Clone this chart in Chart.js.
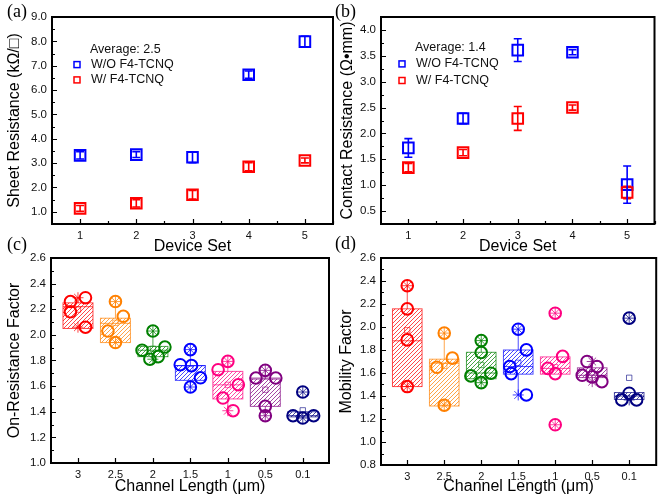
<!DOCTYPE html>
<html>
<head>
<meta charset="utf-8">
<script src="https://cdn.jsdelivr.net/npm/chart.js@4.4.1/dist/chart.umd.min.js"></script>
<style>
  html, body { margin: 0; padding: 0; width: 659px; height: 502px; overflow: hidden; background: #fff; }
  canvas { position: absolute; left: 0; top: 0; }
</style>
</head>
<body>
<canvas id="chart-a" width="664" height="502"></canvas>
<canvas id="chart-b" width="664" height="502"></canvas>
<canvas id="chart-c" width="664" height="502"></canvas>
<canvas id="chart-d" width="664" height="502"></canvas>
<script>
// ---- data ----
const deviceSets = [1, 2, 3, 4, 5];
const seriesLabels = ["W/O F4-TCNQ", "W/ F4-TCNQ"];

const sheetTicks = [1, 2, 3, 4, 5, 6, 7, 8, 9];
const sheetAverage = "Average: 2.5";
const sheetWithout = [3.32, 3.35, 3.24, 6.63, 7.99];
const sheetWithoutErr = [0.15, 0.12, 0.22, 0.15, 0.22];
const sheetWith = [1.14, 1.35, 1.70, 2.85, 3.11];
const sheetWithErr = [0.12, 0.15, 0.18, 0.17, 0.10];

const contactTicks = [0.5, 1.0, 1.5, 2.0, 2.5, 3.0, 3.5, 4.0];
const contactAverage = "Average: 1.4";
const contactWithout = [1.72, 2.29, 3.61, 3.57, 1.01];
const contactWithoutErr = [0.18, 0.10, 0.22, 0.05, 0.36];
const contactWith = [1.34, 1.63, 2.29, 2.50, 0.86];
const contactWithErr = [0.08, 0.06, 0.23, 0.05, 0.12];

const channelLengths = ["3", "2.5", "2", "1.5", "1", "0.5", "0.1"];
const groupColors = ["#ff0000", "#ff8000", "#008000", "#0000ff", "#ff0080", "#800080", "#000080"];

const onResTicks = [1.0, 1.2, 1.4, 1.6, 1.8, 2.0, 2.2, 2.4, 2.6];
const onResPoints = [
    [2.26, 2.29, 2.18, 2.06],
    [2.26, 2.145, 2.03, 1.94],
    [2.03, 1.88, 1.905, 1.81, 1.83],
    [1.885, 1.767, 1.76, 1.665, 1.593],
    [1.793, 1.728, 1.611, 1.507, 1.408],
    [1.723, 1.663, 1.663, 1.442, 1.369],
    [1.554, 1.369, 1.369, 1.351]
];
const onResOffsets = [
    [-0.2, 0.2, -0.2, 0.2],
    [0, 0.21, -0.2, 0],
    [0, -0.29, 0.32, -0.08, 0.14],
    [0, -0.27, 0.03, 0.27, 0],
    [0, -0.26, 0.28, -0.13, 0.14],
    [0, -0.25, 0.28, 0, 0],
    [0, -0.26, 0.29, 0]
];
const onResBoxLow = [2.05, 1.94, 1.83, 1.645, 1.50, 1.442, 1.36];
const onResBoxHigh = [2.25, 2.13, 1.91, 1.76, 1.715, 1.655, 1.40];
const onResMedian = [2.22, 2.09, 1.88, 1.76, 1.61, 1.663, 1.37];

const mobilityTicks = [0.8, 1.0, 1.2, 1.4, 1.6, 1.8, 2.0, 2.2, 2.4, 2.6];
const mobilityPoints = [
    [2.359, 2.158, 1.888, 1.482],
    [1.947, 1.729, 1.65, 1.32],
    [1.882, 1.778, 1.575, 1.598, 1.516],
    [1.981, 1.801, 1.656, 1.595, 1.409],
    [2.12, 1.745, 1.64, 1.595, 1.15],
    [1.70, 1.656, 1.58, 1.566, 1.525],
    [2.077, 1.366, 1.424, 1.366]
];
const mobilityOffsets = [
    [0, 0, 0, 0],
    [0, 0.22, -0.2, 0],
    [0, 0, -0.28, 0.26, 0],
    [0, 0.22, -0.23, -0.19, 0.22],
    [0, 0.2, -0.2, 0, 0],
    [-0.14, 0.13, -0.27, 0, 0.26],
    [0, -0.2, 0, 0.2]
];
const mobilityBoxLow = [1.482, 1.313, 1.55, 1.59, 1.59, 1.56, 1.37];
const mobilityBoxHigh = [2.158, 1.72, 1.78, 1.80, 1.74, 1.645, 1.43];
const mobilityMedian = [1.88, 1.685, 1.60, 1.656, 1.64, 1.58, 1.40];

// ---- shared setup ----
Chart.defaults.font.family = "'Liberation Sans', Arial, sans-serif";
Chart.defaults.color = "#111";
Chart.defaults.animation = false;

function withAlpha(hex, a) {
    const n = parseInt(hex.slice(1), 16);
    return `rgba(${n >> 16}, ${(n >> 8) & 255}, ${n & 255}, ${a})`;
}

function hatchPattern(ctx, color) {
    const tile = document.createElement("canvas");
    tile.width = tile.height = 4;
    const g = tile.getContext("2d");
    g.strokeStyle = withAlpha(color, 0.8);
    g.lineWidth = 0.9;
    g.beginPath();
    g.moveTo(0, 4); g.lineTo(4, 0);
    g.moveTo(-1, 1); g.lineTo(1, -1);
    g.moveTo(3, 5); g.lineTo(5, 3);
    g.stroke();
    return ctx.createPattern(tile, "repeat");
}

function yAxis(min, max, ticks, title, width, titlePad, fmt) {
    return {
        type: "linear", min, max,
        afterBuildTicks: s => { s.ticks = ticks.map(v => ({ value: v })); },
        afterFit: s => { s.width = width; },
        grid: { display: false, drawTicks: false },
        border: { display: false },
        ticks: { padding: 5, font: { size: 11.5 }, color: "#111", callback: v => fmt(v) },
        title: { display: true, text: title, color: "#000", font: { size: 16 }, padding: { top: titlePad, bottom: 0 } }
    };
}

function xAxis(min, max, ticks, labelOf, title, titlePad) {
    return {
        type: "linear", min, max,
        afterBuildTicks: s => { s.ticks = ticks.map(v => ({ value: v })); },
        afterFit: s => { s.height = 35; },
        grid: { display: false, drawTicks: false },
        border: { display: false },
        ticks: { padding: 5, font: { size: 11 }, color: "#111", callback: v => labelOf(v) },
        title: { display: true, text: title, color: "#000", font: { size: 16 }, padding: { top: 0, bottom: titlePad } }
    };
}

// frame, inward ticks and panel letter
const framePlugin = {
    id: "frame",
    afterDraw(chart, args, opts) {
        const { ctx, chartArea: a, scales: { x, y } } = chart;
        ctx.save();
        ctx.strokeStyle = "#000";
        ctx.lineWidth = 2;
        ctx.strokeRect(a.left, a.top, a.right - a.left, a.bottom - a.top);
        ctx.lineWidth = 1.2;
        ctx.beginPath();
        const yStep = y.ticks[1].value - y.ticks[0].value;
        for (let v = y.ticks[0].value - yStep; v <= y.max + 1e-9; v += yStep / 2) {
            if (v <= y.min + 1e-9) continue;
            const py = Math.round(y.getPixelForValue(v)) + 0.5;
            const major = Math.abs((v - y.ticks[0].value) / yStep - Math.round((v - y.ticks[0].value) / yStep)) < 1e-6;
            ctx.moveTo(a.left, py); ctx.lineTo(a.left + (major ? 5 : 3), py);
        }
        const xStep = x.ticks[1].value - x.ticks[0].value;
        const xSub = opts.xMinor ? xStep / 2 : xStep;
        for (let v = x.ticks[0].value - xStep; v <= x.max + 1e-9; v += xSub) {
            if (v <= x.min + 1e-9) continue;
            const px = Math.round(x.getPixelForValue(v)) + 0.5;
            const major = Math.abs((v - x.ticks[0].value) / xStep - Math.round((v - x.ticks[0].value) / xStep)) < 1e-6;
            ctx.moveTo(px, a.bottom); ctx.lineTo(px, a.bottom - (major ? 5 : 3));
        }
        ctx.stroke();
        ctx.fillStyle = "#000";
        ctx.font = "18px 'Liberation Serif', 'Times New Roman', serif";
        ctx.textBaseline = "middle";
        ctx.fillText(opts.letter, opts.letterX, opts.letterY);
        ctx.restore();
    }
};

// error bars and the in-plot legend for panels (a) and (b)
const errorPlugin = {
    id: "errorBars",
    afterDatasetsDraw(chart) {
        const { ctx, scales: { y } } = chart;
        chart.data.datasets.forEach((ds, i) => {
            const meta = chart.getDatasetMeta(i);
            ctx.save();
            ctx.strokeStyle = ds.borderColor;
            ctx.lineWidth = 1.6;
            ctx.beginPath();
            meta.data.forEach((pt, k) => {
                const v = ds.data[k].y;
                const top = y.getPixelForValue(v + ds.errors[k]);
                const bot = y.getPixelForValue(v - ds.errors[k]);
                ctx.moveTo(pt.x, top); ctx.lineTo(pt.x, bot);
                ctx.moveTo(pt.x - 4, top); ctx.lineTo(pt.x + 4, top);
                ctx.moveTo(pt.x - 4, bot); ctx.lineTo(pt.x + 4, bot);
            });
            ctx.stroke();
            ctx.restore();
        });
    }
};

const notePlugin = {
    id: "note",
    afterDraw(chart, args, opts) {
        const { ctx } = chart;
        ctx.save();
        ctx.font = "12.5px 'Liberation Sans', Arial, sans-serif";
        ctx.textBaseline = "middle";
        ctx.fillStyle = "#111";
        ctx.fillText(opts.average, opts.x + 13, opts.y);
        opts.items.forEach((item, i) => {
            const cy = opts.y + opts.gap * (i + 1);
            ctx.strokeStyle = item.color;
            ctx.lineWidth = 1.5;
            ctx.strokeRect(opts.x - 3, cy - 3, 6, 6);
            ctx.fillText(item.label, opts.x + 14, cy);
        });
        ctx.restore();
    }
};

// hatched boxes, whiskers and median lines for panels (c) and (d)
const boxPlugin = {
    id: "boxPlot",
    beforeDatasetsDraw(chart, args, opts) {
        const { ctx, scales: { x, y } } = chart;
        opts.points.forEach((pts, i) => {
            const color = groupColors[i];
            const lo = opts.low[i], hi = opts.high[i];
            const iqr = hi - lo;
            const inside = pts.filter(v => v >= lo - 1.5 * iqr && v <= hi + 1.5 * iqr);
            const wHi = Math.max(hi, ...inside), wLo = Math.min(lo, ...inside);
            const l = x.getPixelForValue(i - 0.4), r = x.getPixelForValue(i + 0.4), c = x.getPixelForValue(i);
            const t = y.getPixelForValue(hi), b = y.getPixelForValue(lo);
            ctx.save();
            ctx.fillStyle = hatchPattern(ctx, color);
            ctx.fillRect(l, t, r - l, b - t);
            ctx.strokeStyle = withAlpha(color, 0.7);
            ctx.lineWidth = 1;
            ctx.strokeRect(l, t, r - l, b - t);
            ctx.beginPath();
            const m = y.getPixelForValue(opts.median[i]);
            ctx.moveTo(l, m); ctx.lineTo(r, m);
            ctx.moveTo(c, t); ctx.lineTo(c, y.getPixelForValue(wHi));
            ctx.moveTo(c, b); ctx.lineTo(c, y.getPixelForValue(wLo));
            ctx.stroke();
            ctx.restore();
        });
    }
};

function squareDataset(label, values, errors, color) {
    return {
        label,
        data: deviceSets.map((d, i) => ({ x: d, y: values[i] })),
        errors,
        pointStyle: "rect",
        pointRadius: 7.5,
        borderWidth: 2,
        borderColor: color,
        backgroundColor: "rgba(0,0,0,0)"
    };
}

function makeSetChart(id, padding, yCfg, withoutVals, withoutErr, withVals, withErr, frame, note) {
    return new Chart(document.getElementById(id), {
        type: "scatter",
        data: {
            datasets: [
                squareDataset(seriesLabels[1], withVals, withErr, "#ff0000"),
                squareDataset(seriesLabels[0], withoutVals, withoutErr, "#0000ff")
            ]
        },
        options: {
            responsive: false,
            devicePixelRatio: 1,
            layout: { padding },
            scales: {
                x: Object.assign(xAxis(0.5, 5.5, deviceSets, v => String(v), "Device Set", 0),
                    { afterFit: s => { s.height = 32; } }),
                y: yCfg
            },
            plugins: { legend: { display: false }, tooltip: { enabled: false }, frame, note }
        },
        plugins: [errorPlugin, framePlugin, notePlugin]
    });
}

function boxDatasets(points, offsets) {
    const sets = [];
    points.forEach((pts, i) => {
        const color = groupColors[i];
        sets.push({
            data: [{ x: i, y: pts.reduce((s, v) => s + v, 0) / pts.length }],
            pointStyle: "rect", pointRadius: 3.8, borderWidth: 1,
            borderColor: withAlpha(color, 0.6), backgroundColor: "rgba(0,0,0,0)"
        });
        sets.push({
            data: [{ x: i, y: Math.min(...pts) }, { x: i, y: Math.max(...pts) }],
            pointStyle: "star", pointRadius: 5.5, borderWidth: 1,
            borderColor: withAlpha(color, 0.75), backgroundColor: "rgba(0,0,0,0)"
        });
        sets.push({
            data: pts.map((v, k) => ({ x: i + offsets[i][k], y: v })),
            pointStyle: "circle", pointRadius: 5.8, borderWidth: 2,
            borderColor: color, backgroundColor: "rgba(0,0,0,0)"
        });
    });
    return sets;
}

function makeLengthChart(id, padding, yCfg, xMin, xMax, titlePad, points, offsets, low, high, median, frame) {
    return new Chart(document.getElementById(id), {
        type: "scatter",
        data: { datasets: boxDatasets(points, offsets) },
        options: {
            responsive: false,
            devicePixelRatio: 1,
            layout: { padding },
            scales: {
                x: xAxis(xMin, xMax, channelLengths.map((c, i) => i), v => channelLengths[v], "Channel Length (\u03bcm)", titlePad),
                y: yCfg
            },
            plugins: {
                legend: { display: false }, tooltip: { enabled: false }, frame,
                boxPlot: { points, low, high, median }
            }
        },
        plugins: [boxPlugin, framePlugin]
    });
}

const fmt1 = v => v.toFixed(1);

makeSetChart("chart-a", { left: 0, top: 17, right: 331, bottom: 246 },
    yAxis(0.5, 9.0, sheetTicks, "Sheet Resistance (k\u03a9/\u25a1)", 52, 5.4, fmt1),
    sheetWithout, sheetWithoutErr, sheetWith, sheetWithErr,
    { letter: "(a)", letterX: 7, letterY: 12, xMinor: true },
    { average: sheetAverage, x: 77, y: 49.3, gap: 15.3,
      items: [{ label: seriesLabels[0], color: "#0000ff" }, { label: seriesLabels[1], color: "#ff0000" }] });

makeSetChart("chart-b", { left: 333, top: 17, right: 3, bottom: 246 },
    yAxis(0.25, 4.25, contactTicks, "Contact Resistance (\u03a9\u2022mm)", 48, 4.9, fmt1),
    contactWithout, contactWithoutErr, contactWith, contactWithErr,
    { letter: "(b)", letterX: 335, letterY: 12, xMinor: true },
    { average: contactAverage, x: 402, y: 47.3, gap: 16.6,
      items: [{ label: seriesLabels[0], color: "#0000ff" }, { label: seriesLabels[1], color: "#ff0000" }] });

makeLengthChart("chart-c", { left: 0, top: 258, right: 335, bottom: 4 },
    yAxis(1.0, 2.6, onResTicks, "On-Resistance Factor", 51, 5.4, fmt1),
    -0.72, 6.7, 1.6, onResPoints, onResOffsets, onResBoxLow, onResBoxHigh, onResMedian,
    { letter: "(c)", letterX: 7, letterY: 245 });

makeLengthChart("chart-d", { left: 333, top: 258, right: 4, bottom: 2 },
    yAxis(0.8, 2.6, mobilityTicks, "Mobility Factor", 48, 3.9, fmt1),
    -0.71, 6.73, 3.6, mobilityPoints, mobilityOffsets, mobilityBoxLow, mobilityBoxHigh, mobilityMedian,
    { letter: "(d)", letterX: 335, letterY: 244 });
</script>
</body>
</html>
